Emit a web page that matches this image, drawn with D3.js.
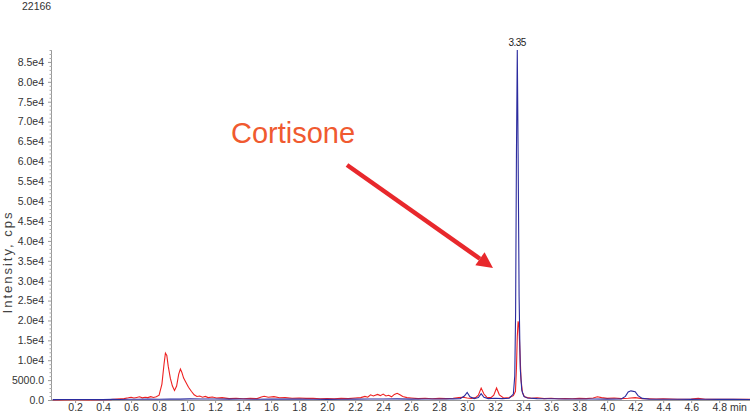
<!DOCTYPE html>
<html><head><meta charset="utf-8">
<script src="https://cdn.jsdelivr.net/npm/d3@7"></script>
<style>body{margin:0;background:#fff}svg{display:block}</style>
</head><body><svg id="c" width="750" height="412"></svg>
<script>
// ---- data ----
const xTicks = [0.2,0.4,0.6,0.8,1.0,1.2,1.4,1.6,1.8,2.0,2.2,2.4,2.6,2.8,3.0,3.2,3.4,3.6,3.8,4.0,4.2,4.4,4.6,4.8];
const yTicks = [0,5000,10000,15000,20000,25000,30000,35000,40000,45000,50000,55000,60000,65000,70000,75000,80000,85000];
const yTickLabels = ["0.0","5000.0","1.0e4","1.5e4","2.0e4","2.5e4","3.0e4","3.5e4","4.0e4","4.5e4","5.0e4","5.5e4","6.0e4","6.5e4","7.0e4","7.5e4","8.0e4","8.5e4"];
const blueSeries = [
 [0.04,100],[0.12,140],[0.2,110],[0.3,130],[0.4,100],[0.47,160],[0.52,120],[0.58,200],[0.65,170],[0.72,230],[0.8,200],[0.88,260],[0.95,220],[1.02,280],[1.1,240],[1.2,260],[1.3,210],[1.4,240],[1.5,200],[1.6,250],[1.7,210],[1.8,230],[1.9,180],[2.0,160],[2.1,200],[2.2,220],[2.3,260],[2.4,240],[2.5,280],[2.6,230],[2.7,260],[2.8,240],[2.9,280],[2.95,320],[2.98,1000],[3.0,1900],[3.02,800],[3.05,350],[3.08,600],[3.1,1600],[3.12,700],[3.15,350],[3.2,450],[3.25,350],[3.3,450],[3.33,1500],[3.34,6000],[3.346,22000],[3.352,62000],[3.358,88000],[3.364,62000],[3.371,26000],[3.379,8000],[3.39,2500],[3.405,900],[3.43,500],[3.5,350],[3.6,300],[3.7,260],[3.8,240],[3.9,250],[4.0,230],[4.1,260],[4.13,900],[4.15,2000],[4.17,2300],[4.2,2100],[4.22,1100],[4.25,400],[4.3,220],[4.4,180],[4.5,200],[4.6,160],[4.7,180],[4.8,150],[4.9,160],[5.02,130]
];
const redSeries = [
 [0.04,0],[0.1,40],[0.2,60],[0.3,40],[0.4,70],[0.45,100],[0.5,250],[0.55,350],[0.58,550],[0.6,700],[0.62,500],[0.64,650],[0.66,800],[0.68,550],[0.7,700],[0.72,600],[0.74,850],[0.76,650],[0.78,800],[0.8,1200],[0.82,4000],[0.835,9000],[0.845,11800],[0.855,11200],[0.865,8500],[0.88,5500],[0.895,3500],[0.91,2400],[0.925,3500],[0.94,6500],[0.952,7800],[0.962,7000],[0.975,5500],[0.99,4500],[1.01,3200],[1.03,2200],[1.05,1300],[1.07,900],[1.09,1000],[1.11,700],[1.13,900],[1.15,600],[1.18,750],[1.21,500],[1.25,600],[1.3,350],[1.35,450],[1.4,300],[1.45,400],[1.5,350],[1.53,750],[1.55,950],[1.58,700],[1.62,850],[1.66,550],[1.7,600],[1.75,450],[1.8,500],[1.85,400],[1.9,450],[1.95,300],[2.0,350],[2.05,280],[2.1,400],[2.15,350],[2.2,500],[2.24,600],[2.27,900],[2.29,700],[2.31,1300],[2.33,1000],[2.36,1400],[2.38,1100],[2.4,1500],[2.42,1000],[2.44,1200],[2.46,800],[2.48,1400],[2.5,1700],[2.52,1300],[2.54,900],[2.57,600],[2.6,500],[2.65,350],[2.7,450],[2.75,300],[2.8,400],[2.85,350],[2.9,450],[2.94,600],[2.97,700],[3.0,500],[3.03,400],[3.06,600],[3.08,1200],[3.1,3000],[3.12,1500],[3.14,700],[3.17,600],[3.19,1200],[3.21,3000],[3.23,1300],[3.26,500],[3.3,600],[3.33,1100],[3.345,2200],[3.352,8000],[3.358,16000],[3.364,19800],[3.37,18500],[3.377,12000],[3.385,5000],[3.395,1800],[3.41,800],[3.43,600],[3.46,450],[3.5,550],[3.55,350],[3.6,450],[3.65,300],[3.7,350],[3.75,300],[3.8,400],[3.85,350],[3.9,500],[3.93,800],[3.96,600],[4.0,400],[4.05,500],[4.1,350],[4.15,450],[4.2,600],[4.25,350],[4.3,300],[4.35,250],[4.4,300],[4.5,200],[4.6,250],[4.65,400],[4.7,200],[4.8,150],[4.9,200],[5.02,150]
];
const peakLabel = {t:3.35, text:"3.35"};

// ---- drawing ----
const svg = d3.select("#c");
const mLeft = 52, mRight = 750, mTop = 50, mBottom = 400;
const x = d3.scaleLinear().domain([0.035, 5.02]).range([mLeft, mRight]);
const y = d3.scaleLinear().domain([0, 88000]).range([mBottom, mTop]);
const font = "'Liberation Sans', Arial, sans-serif";

svg.append("text").attr("x",22).attr("y",10).attr("font-family",font).attr("font-size",10.5).attr("fill","#333").text("22166");

// y axis
const yAxis = d3.axisLeft(y).tickValues(yTicks).tickSize(4).tickFormat((d,i)=>yTickLabels[i]);
const gy = svg.append("g").attr("transform",`translate(${mLeft},0)`).call(yAxis);
gy.select(".domain").attr("stroke","#999").attr("d",`M-0.5,${mTop}V${mBottom}`);
gy.selectAll(".tick line").attr("stroke","#999");
gy.selectAll(".tick text").attr("font-family",font).attr("font-size",10.5).attr("fill","#333").attr("x",-8);
// minor y ticks
const minorY = d3.range(0, 88001, 1000).filter(v=>v%5000!==0);
svg.append("g").selectAll("line").data(minorY).join("line")
 .attr("x1",mLeft-2.5).attr("x2",mLeft).attr("y1",d=>y(d)+0.5).attr("y2",d=>y(d)+0.5).attr("stroke","#aaa");

// x axis
const xAxis = d3.axisBottom(x).tickValues(xTicks).tickSize(3).tickFormat(d3.format(".1f"));
const gx = svg.append("g").attr("transform",`translate(0,${mBottom})`).call(xAxis);
gx.select(".domain").attr("stroke","#999").attr("d",`M${mLeft},0.5H${mRight}`);
gx.selectAll(".tick line").attr("stroke","#999");
gx.selectAll(".tick text").attr("font-family",font).attr("font-size",10.5).attr("fill","#333").attr("y",4);
svg.append("text").attr("x",730).attr("y",411).attr("font-family",font).attr("font-size",10.5).attr("fill","#333").text("min");

// y label
svg.append("text").attr("transform","translate(12,262) rotate(-90)").attr("text-anchor","middle")
 .attr("font-family",font).attr("font-size",13).attr("letter-spacing",2).attr("fill","#444").text("Intensity, cps");

// lines
const line = d3.line().x(d=>x(d[0])).y(d=>y(d[1]));
svg.append("path").datum(redSeries).attr("d",line).attr("fill","none").attr("stroke","#ee2222").attr("stroke-width",1.1);
svg.append("path").datum(blueSeries).attr("d",line).attr("fill","none").attr("stroke","#2b2b9e").attr("stroke-width",1.1);

svg.append("text").attr("x",x(peakLabel.t)+1).attr("y",46).attr("text-anchor","middle")
 .attr("font-family",font).attr("font-size",10).attr("letter-spacing",-0.5).attr("fill","#222").text(peakLabel.text);

// annotation
svg.append("text").attr("x",231).attr("y",143).attr("font-family",font).attr("font-size",29).attr("fill","#f05a30").text("Cortisone");
const ax0=347, ay0=165, ax1=493, ay1=268;
const ang = Math.atan2(ay1-ay0, ax1-ax0);
const hl = 16, hw = 8;
const bx = ax1 - hl*Math.cos(ang), by = ay1 - hl*Math.sin(ang);
svg.append("line").attr("x1",ax0).attr("y1",ay0).attr("x2",bx).attr("y2",by).attr("stroke","#e8282c").attr("stroke-width",4.5);
svg.append("polygon").attr("fill","#e8282c").attr("points",[
 [ax1,ay1],[bx+hw*Math.sin(ang), by-hw*Math.cos(ang)],[bx-hw*Math.sin(ang), by+hw*Math.cos(ang)]].map(p=>p.join(",")).join(" "));
</script></body></html>
